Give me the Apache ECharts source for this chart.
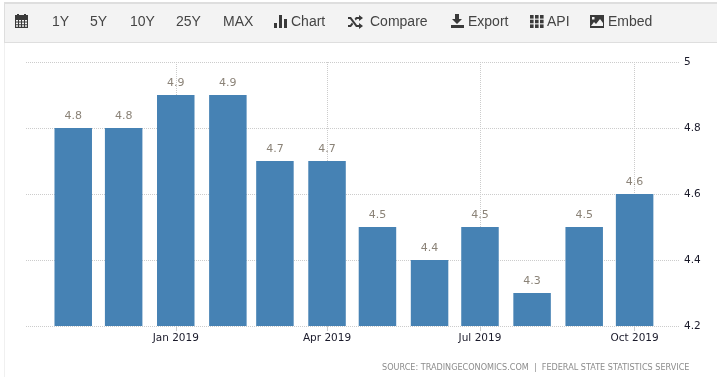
<!DOCTYPE html>
<html><head><meta charset="utf-8">
<style>html,body{margin:0;padding:0;background:#fff}#c{width:717px;height:377px}</style>
<script src="https://cdn.jsdelivr.net/npm/echarts@6/dist/echarts.min.js"></script>
</head><body><div id="c"></div>
<script>
const months = ['2018-11-01','2018-12-01','2019-01-01','2019-02-01','2019-03-01','2019-04-01','2019-05-01','2019-06-01','2019-07-01','2019-08-01','2019-09-01','2019-10-01'];
const values = [4.8,4.8,4.9,4.9,4.7,4.7,4.5,4.4,4.5,4.3,4.5,4.6];
const labelledMonths = ['2019-01-01','2019-04-01','2019-07-01','2019-10-01'];
const yTicks = [4.2,4.4,4.6,4.8,5];
const toolbarItems = [['1Y',52],['5Y',90],['10Y',130],['25Y',176],['MAX',223],['Chart',291],['Compare',370],['Export',468],['API',547],['Embed',608]];
const sourceText = 'SOURCE: TRADINGECONOMICS.COM  |  FEDERAL STATE STATISTICS SERVICE';

const ts = s => new Date(s + 'T00:00:00Z').getTime();
const names = ['Jan','Feb','Mar','Apr','May','Jun','Jul','Aug','Sep','Oct','Nov','Dec'];
const ink = '#3a3a3a';
const R = (x,y,w,h,fill) => ({type:'rect',silent:true,shape:{x,y,width:w,height:h},style:{fill:fill||ink}});
const G = (pts,fill) => ({type:'polygon',silent:true,shape:{points:pts},style:{fill:fill||ink}});

const gfx = [
  R(4,2,713,41,'#dedede'), R(5,4,712,38,'#f3f3f3'),
  R(4,43,1,334,'#f0f0f0'),
  // calendar
  R(15,15,13,13), R(17,14,2,3), R(24,14,2,3)
];
for (let r=0;r<3;r++) for (let c=0;c<4;c++) gfx.push(R(16+c*3,20+r*2.6,2,1.6,'#f3f3f3'));
// chart icon
gfx.push(R(274,23,3,5),R(279,15,3,13),R(284,19,3,9));
// shuffle icon
gfx.push(G([[348,17],[351,17],[357,25],[359,25],[359,23],[363,26],[359,29],[359,27],[356,27],[350,19],[348,19]]));
gfx.push(G([[348,25],[350,25],[352,22.5],[353.2,24.2],[351,27],[348,27]]));
gfx.push(G([[356,17],[359,17],[359,15],[363,18],[359,21],[359,19],[357,19],[355.8,20.5],[354.6,18.8]]));
// export icon
gfx.push(G([[455,14],[459,14],[459,19],[462,19],[457,24],[452,19],[455,19]]), R(451,25,13,3));
// api icon
for (let r=0;r<3;r++) for (let c=0;c<3;c++) gfx.push(R(530+c*5,15+r*4.7,3.6,3.6));
// embed icon
gfx.push(R(590,15,14,13));
gfx.push(G([[591,26],[594,22],[596,24],[600,19],[603,23],[603,26]],'#f3f3f3'));
gfx.push(R(592,17,2.5,2.5,'#f3f3f3'));
toolbarItems.forEach(([t,x]) => gfx.push({type:'text',silent:true,x,y:22,style:{text:t,fill:'#444',font:'14px "Liberation Sans"',verticalAlign:'middle'}}));
gfx.push({type:'text',silent:true,x:382,y:368,style:{text:sourceText,fill:'#8c8c8c',font:'8.1px "DejaVu Sans"',verticalAlign:'middle'}});

const chart = echarts.init(document.getElementById('c'),null,{renderer:'canvas'});
const custom = labelledMonths.map(ts);
chart.setOption({
  animation:false,
  grid:{left:26,right:37,top:62,bottom:51},
  xAxis:{
    type:'value',
    scale:true,
    min:ts('2018-10-03')+0.9*864e5,
    max:ts('2019-10-28'),
    axisLine:{show:false},
    axisTick:{show:true,length:5,customValues:custom,lineStyle:{color:'#ccc'}},
    splitLine:{show:true,lineStyle:{color:'#ccc',type:'dotted'}},
    axisLabel:{
      customValues:custom,
      margin:7,
      color:'#1a1a2a',
      fontFamily:'DejaVu Sans',
      fontSize:10.5,
      hideOverlap:false,
      formatter:v=>{const d=new Date(v);return names[d.getUTCMonth()]+' '+d.getUTCFullYear();}
    }
  },
  yAxis:{
    type:'value',position:'right',min:4.2,max:5,interval:0.2,
    axisLine:{show:false},axisTick:{show:false},
    splitLine:{show:true,lineStyle:{color:'#ccc',type:'dotted'}},
    axisLabel:{margin:4,padding:[5,0,0,0],color:'#1a1a2a',fontFamily:'DejaVu Sans',fontSize:10.5,
      formatter:v=>{const r=Math.round(v*10)/10;return yTicks.includes(r)?String(r):'';}}
  },
  series:[{
    type:'bar',
    barWidth:37.5,
    data:months.map((m,i)=>[ts(m),values[i]]),
    itemStyle:{color:'#4682b4'},
    label:{show:true,position:'top',distance:6,color:'#8b8378',fontFamily:'DejaVu Sans',fontSize:11,formatter:p=>p.value[1].toFixed(1)}
  }],
  graphic:gfx
});
</script></body></html>
